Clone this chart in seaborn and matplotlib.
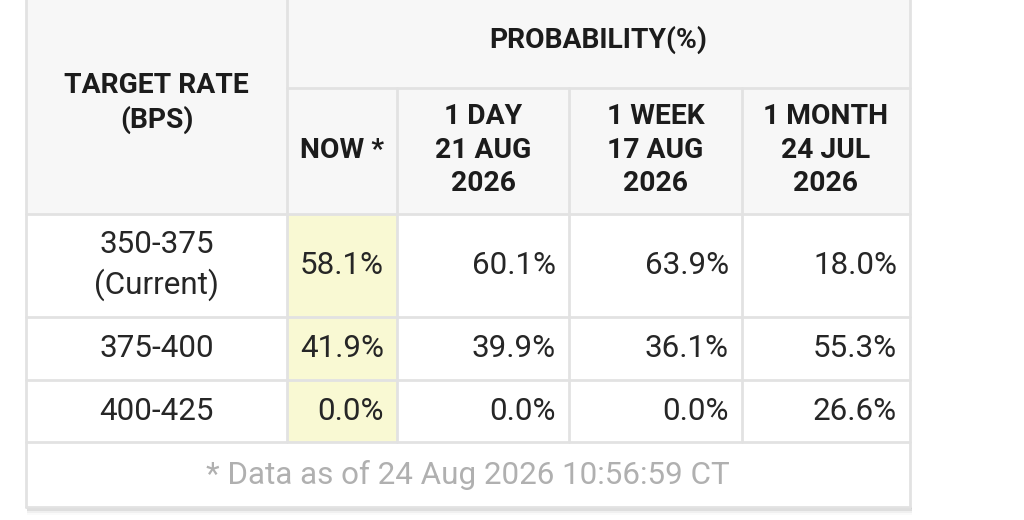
import seaborn as sns
import matplotlib.pyplot as plt
from matplotlib.patches import Rectangle

sns.set_theme(style="white")
plt.rcParams['font.family'] = ['Roboto', 'DejaVu Sans']

# data
row_labels = ["350-375\n(Current)", "375-400", "400-425"]
col_labels = ["NOW *", "1 DAY\n21 AUG\n2026", "1 WEEK\n17 AUG\n2026", "1 MONTH\n24 JUL\n2026"]
now_vals = [58.1, 41.9, 0.0]
day_vals = [60.1, 39.9, 0.0]
week_vals = [63.9, 36.1, 0.0]
month_vals = [18.0, 55.3, 26.6]
footer = "* Data as of 24 Aug 2026 10:56:59 CT"

# layout in pixels
col_x = [26, 287, 397, 569, 742, 910]
row_y = [214, 317, 380, 442]
top, prob_bottom, foot_bottom = -5, 88, 507

line_c = "#e2e2e2"
head_bg = "#f7f7f7"
hi_bg = "#f9f9d3"

fig = plt.figure(figsize=(10.24, 5.2), dpi=100)
ax = fig.add_axes([0, 0, 1, 1])
ax.set_xlim(0, 1024)
ax.set_ylim(520, 0)
ax.axis("off")

# shadow under the table
for i, a in enumerate([0.10, 0.07, 0.04, 0.02]):
    ax.add_patch(Rectangle((col_x[0] + 1, foot_bottom), col_x[-1] - col_x[0] + 1, 2 + 2 * i,
                           color="black", alpha=a, lw=0, zorder=0))

# header background
ax.add_patch(Rectangle((col_x[0], top), col_x[-1] - col_x[0], row_y[0] - top,
                       facecolor=head_bg, edgecolor="none", zorder=1))
# body background
ax.add_patch(Rectangle((col_x[0], row_y[0]), col_x[-1] - col_x[0], foot_bottom - row_y[0],
                       facecolor="white", edgecolor="none", zorder=1))
# highlighted NOW column
ax.add_patch(Rectangle((col_x[1], row_y[0]), col_x[2] - col_x[1], row_y[-1] - row_y[0],
                       facecolor=hi_bg, edgecolor="none", zorder=1))

lw = 2
# vertical lines
ax.plot([col_x[0], col_x[0]], [top, foot_bottom], color=line_c, lw=lw, zorder=2)
ax.plot([col_x[-1], col_x[-1]], [top, foot_bottom], color=line_c, lw=lw, zorder=2)
ax.plot([col_x[1], col_x[1]], [top, row_y[-1]], color=line_c, lw=lw, zorder=2)
for x in col_x[2:-1]:
    ax.plot([x, x], [prob_bottom, row_y[-1]], color=line_c, lw=lw, zorder=2)
# horizontal lines
ax.plot([col_x[1], col_x[-1]], [prob_bottom, prob_bottom], color=line_c, lw=lw, zorder=2)
for y in row_y + [foot_bottom]:
    ax.plot([col_x[0], col_x[-1]], [y, y], color=line_c, lw=lw, zorder=2)

hfs = 20.3
dfs = 22.6
head_c = "#1c1c1c"
data_c = "#262626"

ax.text((col_x[0] + col_x[1]) / 2, 103, "TARGET RATE\n(BPS)", ha="center", va="center",
        fontsize=hfs, fontweight="bold", color=head_c, linespacing=1.3, zorder=3)
ax.text((col_x[1] + col_x[-1]) / 2, 40, "PROBABILITY(%)", ha="center", va="center",
        fontsize=hfs, fontweight="bold", color=head_c, zorder=3)
for i, lab in enumerate(col_labels):
    cx = (col_x[i + 1] + col_x[i + 2]) / 2
    ax.text(cx, 150, lab, ha="center", va="center", fontsize=hfs, fontweight="bold",
            color=head_c, linespacing=1.32, zorder=3)

cols = [now_vals, day_vals, week_vals, month_vals]
for r, lab in enumerate(row_labels):
    cy = (row_y[r] + row_y[r + 1]) / 2
    ax.text((col_x[0] + col_x[1]) / 2, cy, lab, ha="center", va="center", fontsize=dfs,
            color=data_c, linespacing=1.36, zorder=3)
    for c, vals in enumerate(cols):
        ax.text(col_x[c + 2] - 13, cy, f"{vals[r]:.1f}%", ha="right", va="center",
                fontsize=dfs, color=data_c, zorder=3)

ax.text((col_x[0] + col_x[-1]) / 2, (row_y[-1] + foot_bottom) / 2, footer, ha="center",
        va="center", fontsize=dfs, color="#b0b0b0", zorder=3)

fig.savefig("out.png", dpi=100, facecolor="white")
